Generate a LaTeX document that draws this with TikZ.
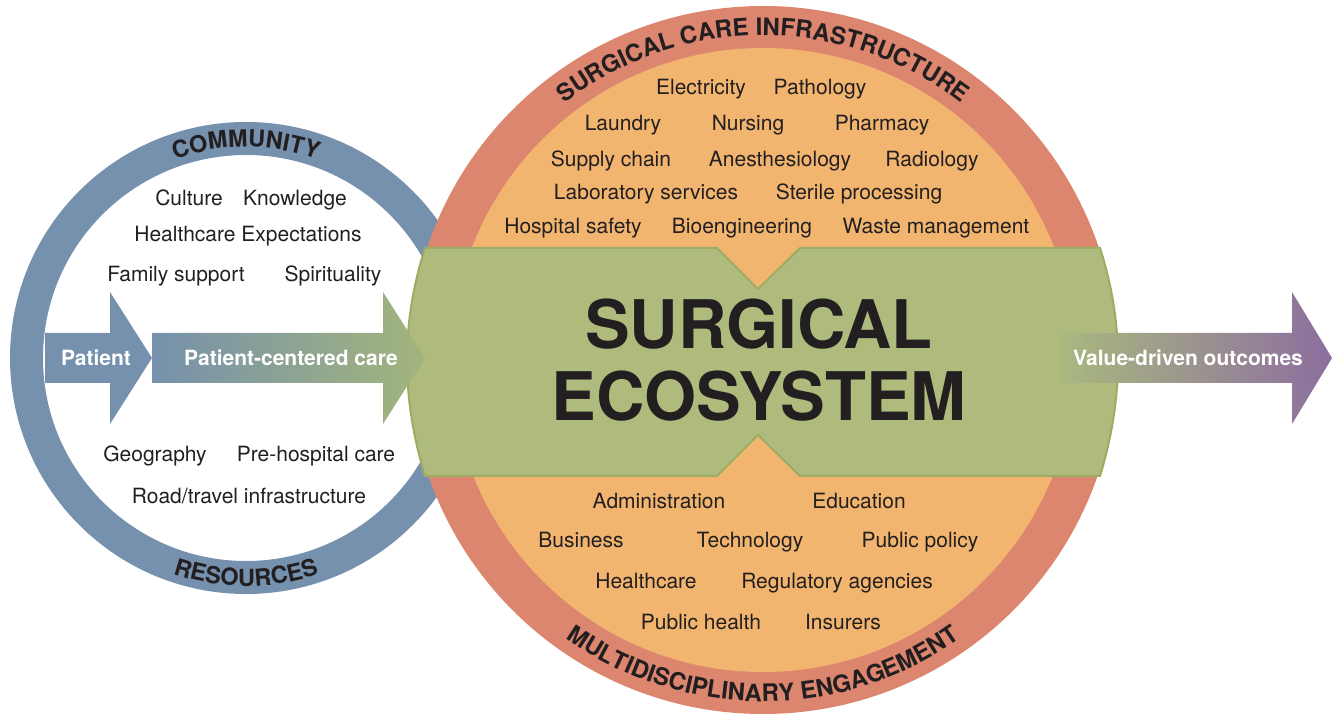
\documentclass[tikz,border=0pt]{standalone}
\usepackage{fontspec}
\setmainfont{TeX Gyre Heros}
\usetikzlibrary{decorations.text}
\definecolor{ringblue}{HTML}{7691AD}
\definecolor{ringred}{HTML}{DC866F}
\definecolor{innerorange}{HTML}{F2B570}
\definecolor{ecogreen}{HTML}{AFBB7D}
\definecolor{ecoborder}{HTML}{9CAC62}
\definecolor{arrowgreen}{HTML}{A3B57B}
\definecolor{valgreen}{HTML}{A9B87F}
\definecolor{valpurple}{HTML}{8C6E9F}
\definecolor{textdark}{HTML}{231F20}
\newcommand\ringfont{\bfseries\fontsize{23.5}{23.5}\selectfont}
\newcommand\bigringfont{\bfseries\fontsize{24}{24}\selectfont}
\begin{document}
\begin{tikzpicture}[x=1pt,y=1pt,
  item/.style={font=\fontsize{21}{21}\selectfont, text=textdark, text height=15pt, text depth=0pt, inner sep=0pt},
  arrowlabel/.style={font=\bfseries\fontsize{21}{21}\selectfont, text=white, text height=15pt, text depth=0pt, inner sep=0pt},
  bigtext/.style={font=\bfseries\fontsize{67}{67}\selectfont, text=textdark, text height=48pt, text depth=0pt, inner sep=0pt},
  ecoshape/.style={fill=ecogreen, draw=ecoborder, line width=2pt, line join=miter},
  pccarrow/.style={left color=ringblue, right color=arrowgreen, middle color=ringblue!50!arrowgreen},
  valarrow/.style={left color=valgreen, right color=valpurple, middle color=valgreen!50!valpurple},
]
\useasboundingbox (0,0) rectangle (1332,715);

% blue ring
\fill[ringblue, even odd rule] (246,357) circle (236) (246,357) circle (203);
% red ring and orange disc
\fill[ringred] (763,355) circle (354);
\fill[innerorange] (763,355) circle (312);

% patient arrow
\fill[ringblue] (45,332) -- (110,332) -- (110,291) -- (152,357) -- (110,423) -- (110,382) -- (45,382) -- cycle;

% green ecosystem shape
\path[ecoshape] (425,467) -- (717,467) -- (758,426) -- (800,467) -- (1100,467)
  .. controls (1124,392) and (1124,318) .. (1100,239) -- (800,239) -- (758,280) -- (717,239) -- (425,239)
  .. controls (401,318) and (401,392) .. (425,467) -- cycle;

% gradient arrows
\shade[pccarrow] (152,332) -- (383,332) -- (383,291) -- (425,357) -- (383,423) -- (383,382) -- (152,382) -- cycle;
\shade[valarrow] (1061,332) -- (1292,332) -- (1292,291) -- (1332,357) -- (1292,423) -- (1292,382) -- (1061,382) -- cycle;

% arrow labels
\node[arrowlabel] (patient) at (96,357) {Patient};
\node[arrowlabel] (pcc) at (291,357) {Patient-centered care};
\node[arrowlabel] (value) at (1188,357) {Value-driven outcomes};

% big title
\node[bigtext] (eco1) at (759,390) {SURGICAL};
\node[bigtext] (eco2) at (759,318) {ECOSYSTEM};

% curved ring labels
\path[decorate, decoration={text along path, text align=center, text={|\ringfont\color{textdark}|COMMUNITY}}]
  (246,357) ++(170:211) arc[start angle=170, end angle=10, radius=211];
\path[decorate, decoration={text along path, text align=center, text={|\ringfont\color{textdark}|RESOURCES}}]
  (246,357) ++(190:228) arc[start angle=190, end angle=350, radius=228];
\path[decorate, decoration={text along path, text align=center, text={|\bigringfont\color{textdark}|SURGICAL CARE INFRASTRUCTURE}}]
  (763,355) ++(165:324.5) arc[start angle=165, end angle=15, radius=324.5];
\path[decorate, decoration={text along path, text align=center, text={|\bigringfont\color{textdark}|MULTIDISCIPLINARY ENGAGEMENT}}]
  (763,355) ++(195:341.5) arc[start angle=195, end angle=345, radius=341.5];

% infrastructure items
\node[item] (elec) at (701,628) {Electricity};
\node[item] (path) at (820,628) {Pathology};
\node[item] (laun) at (623,592) {Laundry};
\node[item] (nurs) at (748,592) {Nursing};
\node[item] (phar) at (882,592) {Pharmacy};
\node[item] (supp) at (611,556) {Supply chain};
\node[item] (anes) at (780,556) {Anesthesiology};
\node[item] (radi) at (932,556) {Radiology};
\node[item] (labs) at (646,523) {Laboratory services};
\node[item] (ster) at (859,523) {Sterile processing};
\node[item] (hosp) at (573,489) {Hospital safety};
\node[item] (bioe) at (742,489) {Bioengineering};
\node[item] (wast) at (936,489) {Waste management};

% engagement items
\node[item] (admi) at (659,214) {Administration};
\node[item] (educ) at (859,214) {Education};
\node[item] (busi) at (581,175) {Business};
\node[item] (tech) at (750,175) {Technology};
\node[item] (publ) at (920,175) {Public policy};
\node[item] (heal) at (646,134) {Healthcare};
\node[item] (regu) at (837,134) {Regulatory agencies};
\node[item] (phea) at (701,93) {Public health};
\node[item] (insu) at (843,93) {Insurers};

% community / resources items
\node[item] (cult) at (189,517) {Culture};
\node[item] (know) at (295,517) {Knowledge};
\node[item] (hcex) at (248,481) {Healthcare Expectations};
\node[item] (fami) at (176,441) {Family support};
\node[item] (spir) at (333,441) {Spirituality};
\node[item] (geog) at (155,261) {Geography};
\node[item] (preh) at (316,261) {Pre-hospital care};
\node[item] (road) at (249,219) {Road/travel infrastructure};
\end{tikzpicture}
\end{document}
